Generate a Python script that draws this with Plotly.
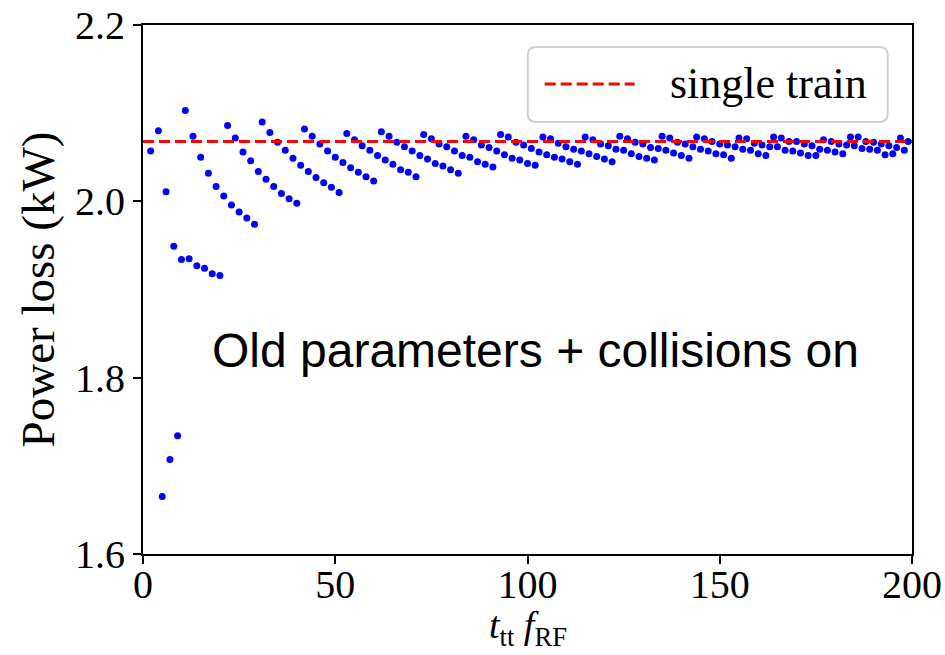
import plotly.graph_objects as go

# ---- data ----
t_f = [2, 4] + list(range(5, 200))
power_loss = [
    2.057, 2.080, 1.665, 2.011, 1.707, 1.949, 1.734, 1.934, 2.103, 1.935,   # 2,4,5..12
    2.074, 1.927, 2.050, 1.924, 2.032, 1.918, 2.017, 1.916, 2.006, 2.086,   # 13..22
    1.996, 2.072, 1.988, 2.056, 1.981, 2.046, 1.974, 2.034, 2.090, 2.025,   # 23..32
    2.078, 2.017, 2.067, 2.009, 2.058, 2.003, 2.049, 1.998, 2.041, 2.082,   # 33..42
    2.034, 2.074, 2.027, 2.065, 2.021, 2.057, 2.016, 2.050, 2.010, 2.044,   # 43..52
    2.077, 2.038, 2.070, 2.033, 2.063, 2.028, 2.058, 2.023, 2.052, 2.079,   # 53..62
    2.047, 2.074, 2.042, 2.067, 2.036, 2.062, 2.033, 2.057, 2.028, 2.052,   # 63..72
    2.076, 2.048, 2.071, 2.043, 2.065, 2.040, 2.062, 2.036, 2.057, 2.032,   # 73..82
    2.052, 2.074, 2.050, 2.070, 2.045, 2.064, 2.042, 2.061, 2.039, 2.057,   # 83..92
    2.076, 2.053, 2.073, 2.049, 2.067, 2.047, 2.064, 2.043, 2.060, 2.041,   # 93..102
    2.056, 2.073, 2.053, 2.071, 2.050, 2.066, 2.048, 2.062, 2.045, 2.059,   # 103..112
    2.042, 2.057, 2.073, 2.054, 2.070, 2.051, 2.065, 2.048, 2.063, 2.045,   # 113..122
    2.059, 2.074, 2.058, 2.071, 2.054, 2.067, 2.051, 2.065, 2.049, 2.061,   # 123..132
    2.047, 2.060, 2.074, 2.058, 2.072, 2.055, 2.067, 2.052, 2.065, 2.049,   # 133..142
    2.062, 2.073, 2.059, 2.071, 2.057, 2.068, 2.054, 2.065, 2.053, 2.064,   # 143..152
    2.049, 2.062, 2.072, 2.059, 2.071, 2.058, 2.066, 2.054, 2.064, 2.052,   # 153..162
    2.062, 2.073, 2.062, 2.072, 2.058, 2.068, 2.057, 2.068, 2.055, 2.065,   # 163..172
    2.052, 2.063, 2.052, 2.059, 2.070, 2.058, 2.068, 2.056, 2.065, 2.054,   # 173..182
    2.064, 2.073, 2.063, 2.073, 2.060, 2.068, 2.059, 2.067, 2.058, 2.065,   # 183..192
    2.053, 2.063, 2.054, 2.061, 2.072, 2.058, 2.068,                        # 193..199
]
single_train = 2.068
x_range = [0, 200]
y_range = [1.5999, 2.2001]
x_ticks = [0, 50, 100, 150, 200]
y_ticks = [1.6, 1.8, 2.0, 2.2]
legend_label = "single train"
note_text = "Old parameters + collisions on"

SERIF = "Liberation Serif, Times New Roman, serif"
SANS = "Liberation Sans, Arial, sans-serif"

fig = go.Figure()
fig.add_trace(go.Scatter(
    x=t_f, y=power_loss, mode="markers",
    marker=dict(color="#0000ff", size=7, line=dict(width=0)),
    showlegend=False, cliponaxis=True,
))
fig.add_trace(go.Scatter(
    x=x_range, y=[single_train, single_train], mode="lines",
    line=dict(color="#ff0000", width=3, dash="11px,5px"),
    name=legend_label, showlegend=False,
))

axis_common = dict(
    showline=True, linecolor="black", linewidth=2, mirror=True,
    ticks="outside", ticklen=8, tickwidth=2, tickcolor="black",
    showgrid=False, zeroline=False, automargin=False,
    tickfont=dict(family=SERIF, size=40, color="black"),
)
fig.update_xaxes(range=x_range, tickvals=x_ticks, ticklabelstandoff=-14, **axis_common)
fig.update_yaxes(range=y_range, tickvals=y_ticks, tickformat=".1f", **axis_common,
                 title=dict(text="Power loss (kW)",
                            font=dict(family=SERIF, size=47, color="black"),
                            standoff=6))

# x-axis label placed as paper annotation below the tick labels
fig.add_annotation(text="<i>t</i><sub>tt</sub> <i>f</i><sub>RF</sub>",
                   xref="paper", yref="paper", x=0.5, y=-0.140,
                   xanchor="center", yanchor="middle", showarrow=False,
                   font=dict(family=SERIF, size=38, color="black"))

# legend box drawn by hand (rounded)
L, R, B, T = 0.5003, 0.9684, 0.8166, 0.9584
rx, ry = 0.011, 0.016
path = (f"M{L+rx},{B} L{R-rx},{B} Q{R},{B} {R},{B+ry} L{R},{T-ry} Q{R},{T} {R-rx},{T} "
        f"L{L+rx},{T} Q{L},{T} {L},{T-ry} L{L},{B+ry} Q{L},{B} {L+rx},{B} Z")
fig.add_shape(type="path", path=path, xref="paper", yref="paper",
              line=dict(color="#d0d0d0", width=2), fillcolor="rgba(255,255,255,0.8)")
fig.add_shape(type="line", xref="paper", yref="paper",
              x0=0.5224, x1=0.6394, y0=0.8885, y1=0.8885,
              line=dict(color="#ff0000", width=3, dash="11px,5px"))
fig.add_annotation(text=legend_label, xref="paper", yref="paper",
                   x=0.683, y=0.8885, xanchor="left", yanchor="middle",
                   showarrow=False, font=dict(family=SERIF, size=44, color="black"))

fig.add_annotation(text=note_text, x=102, y=1.831, xref="x", yref="y",
                   showarrow=False, font=dict(family=SANS, size=48, color="black"))

fig.update_layout(
    width=945, height=655, autosize=False,
    margin=dict(l=143, r=33, t=25, b=101),
    plot_bgcolor="white", paper_bgcolor="white",
)

# remove the default page margin so the figure sits at the window's top-left
fig.write_html(
    "out.html",
    config={"displayModeBar": False},
    post_script="document.body.style.margin='0';document.body.style.overflow='hidden';",
)
